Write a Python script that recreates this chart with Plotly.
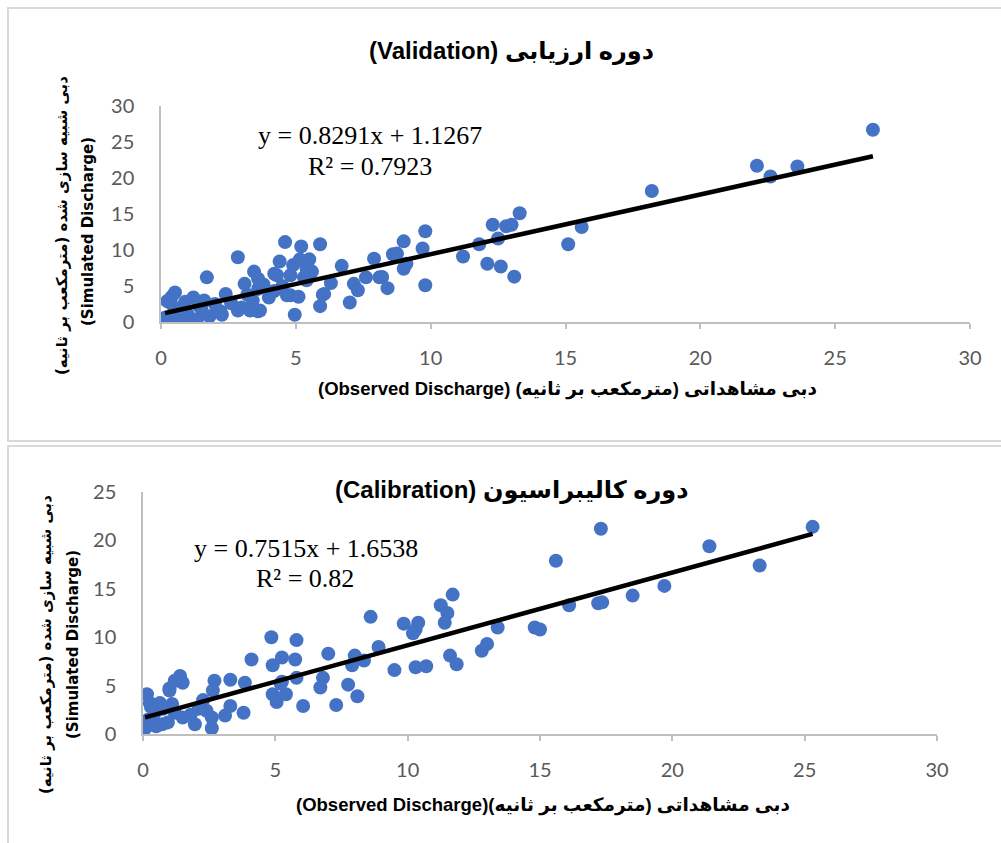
import plotly.graph_objects as go

# ---------------- data ----------------
val_obs = [26.4, 22.1, 22.6, 23.6, 18.2, 13.3, 15.6, 15.1, 12.3, 12.8, 13.0, 12.5, 11.8, 11.2, 12.1,
           12.6, 13.1, 9.8, 9.7, 9.8, 9.0, 8.75, 9.1, 9.0, 8.7, 7.9, 8.1, 8.4, 7.6, 7.15,
           7.3, 7.0, 6.7, 5.9, 6.3, 6.05, 5.9, 5.2, 4.6, 5.1, 4.96, 5.5, 5.4, 5.15, 4.9,
           4.4, 4.2, 4.8, 4.8, 5.4, 2.85, 3.45, 3.1, 3.6, 4.0, 3.4, 3.0, 3.6, 2.4, 2.2,
           1.7, 1.6, 1.2, 0.52, 0.33, 0.23, 0.15, 0.6, 0.96, 1.33, 2.07, 2.26, 2.85, 3.3, 3.67,
           4.3, 4.67, 6.0, 0.5, 0.8, 1.0, 1.5, 1.8, 0.4, 0.9, 1.4, 2.0, 2.6, 3.2, 3.8,
           4.5, 4.2, 3.6, 5.6, 5.3, 8.2, 8.6]
val_sim = [26.7, 21.7, 20.2, 21.6, 18.2, 15.1, 13.2, 10.8, 13.5, 13.3, 13.5, 11.6, 10.8, 9.1, 8.1,
           7.7, 6.3, 12.6, 10.2, 5.1, 11.2, 9.5, 8.1, 7.4, 9.2, 8.8, 6.2, 4.7, 6.2, 5.3,
           4.4, 2.7, 7.8, 10.8, 5.4, 3.9, 2.2, 10.5, 11.1, 3.5, 1.0, 8.7, 7.4, 8.7, 7.9,
           8.4, 6.7, 6.5, 3.7, 5.8, 9.0, 7.0, 5.3, 4.6, 3.4, 3.0, 2.0, 1.5, 3.9, 1.5,
           6.2, 3.0, 3.4, 4.1, 2.7, 2.9, 0.6, 0.3, 0.3, 0.3, 1.6, 1.0, 1.6, 1.6, 1.6,
           6.5, 3.7, 3.8, 1.5, 2.2, 1.0, 1.8, 0.8, 3.5, 2.8, 2.3, 2.5, 2.6, 3.8, 5.2,
           5.0, 4.3, 6.0, 7.0, 6.2, 6.25, 9.4]

cal_obs = [25.3, 17.3, 21.4, 23.3, 15.6, 19.7, 18.5, 11.7, 16.1, 17.2, 17.35, 11.25, 11.5, 11.4, 8.6,
           9.85, 10.4, 10.2, 10.3, 13.4, 14.8, 15.0, 4.85, 5.8, 8.9, 7.0, 8.0, 8.35, 7.9, 4.1,
           5.25, 5.75, 4.9, 9.5, 10.3, 10.7, 11.6, 11.85, 12.8, 13.0, 6.8, 5.8, 5.2, 6.7, 7.75,
           8.1, 7.3, 6.05, 4.9, 5.05, 5.4, 5.25, 2.7, 3.3, 3.85, 1.4, 1.2, 1.0, 1.5, 1.0,
           0.15, 0.26, 0.64, 1.1, 0.76, 0.45, 0.08, 0.34, 0.72, 0.94, 1.5, 1.96, 2.27, 2.4, 2.6,
           2.6, 2.64, 3.3, 3.1, 3.8, 0.2, 0.5, 1.2, 1.8, 2.1, 0.3]
cal_sim = [21.4, 21.2, 19.4, 17.4, 17.9, 15.3, 14.3, 14.4, 13.3, 13.5, 13.6, 13.3, 12.5, 11.5, 12.1,
           11.4, 11.5, 10.4, 10.8, 11.0, 11.0, 10.8, 10.0, 9.7, 9.0, 8.3, 8.1, 7.6, 7.1, 7.7,
           7.9, 7.7, 7.1, 6.6, 6.9, 7.0, 8.1, 7.2, 8.6, 9.3, 5.8, 5.8, 5.2, 4.8, 5.1,
           3.9, 3.0, 2.9, 4.1, 3.3, 4.1, 5.4, 5.5, 5.6, 5.3, 6.0, 5.5, 4.7, 5.3, 4.5,
           4.1, 3.2, 3.2, 3.1, 2.6, 2.2, 0.6, 1.0, 1.0, 1.2, 1.7, 1.0, 3.5, 2.4, 1.7,
           0.6, 4.5, 2.9, 1.9, 2.2, 1.5, 0.8, 2.2, 2.0, 2.6, 2.8]

val_slope, val_intercept = 0.8291, 1.1267
cal_slope, cal_intercept = 0.7515, 1.6538
val_r2, cal_r2 = "0.7923", "0.82"

x_ticks = [0, 5, 10, 15, 20, 25, 30]
val_y_ticks = [0, 5, 10, 15, 20, 25, 30]
cal_y_ticks = [0, 5, 10, 15, 20, 25]

# ---------------- layout helpers ----------------
W, H = 1001, 843
def px(x):
    return x / W
def py(y):
    return 1 - y / H

RLE, PDF = "\u202b", "\u202c"
def rtl(s):
    return RLE + s + PDF

BLUE = "#4472C4"
GRAY_LINE = "#bfbfbf"
TICK_FONT = dict(family="Lato, Liberation Sans, sans-serif", size=20, color="#595959")
TITLE_FAMILY = "Liberation Sans, DejaVu Sans, sans-serif"
EQ_FONT = dict(family="Liberation Serif, Times New Roman, serif", size=26, color="black")

fig = go.Figure()

# validation (top)
fig.add_trace(go.Scatter(x=val_obs, y=val_sim, mode="markers",
                         marker=dict(color=BLUE, size=14, line=dict(width=0)),
                         xaxis="x", yaxis="y", showlegend=False))
vx = [min(val_obs), max(val_obs)]
fig.add_trace(go.Scatter(x=vx, y=[val_slope * v + val_intercept for v in vx], mode="lines",
                         line=dict(color="black", width=4.5), xaxis="x", yaxis="y", showlegend=False))

# calibration (bottom)
fig.add_trace(go.Scatter(x=cal_obs, y=cal_sim, mode="markers",
                         marker=dict(color=BLUE, size=14, line=dict(width=0)),
                         xaxis="x2", yaxis="y2", showlegend=False))
cx = [min(cal_obs), max(cal_obs)]
fig.add_trace(go.Scatter(x=cx, y=[cal_slope * v + cal_intercept for v in cx], mode="lines",
                         line=dict(color="black", width=4.5), xaxis="x2", yaxis="y2", showlegend=False))

common_x = dict(showgrid=False, zeroline=False, showline=True, linecolor=GRAY_LINE, linewidth=1.5,
                ticks="outside", ticklen=5, tickcolor=GRAY_LINE, tickwidth=1.5, automargin=False,
                tickfont=TICK_FONT, tickvals=x_ticks, range=[0, 30], ticklabelstandoff=12)
common_y = dict(showgrid=False, zeroline=False, showline=True, linecolor=GRAY_LINE, linewidth=1.5,
                ticks="", tickfont=TICK_FONT, ticklabelstandoff=21, automargin=False)

fig.update_layout(
    width=W, height=H, margin=dict(l=0, r=0, t=0, b=0, pad=0, autoexpand=False),
    paper_bgcolor="white", plot_bgcolor="white",
    xaxis=dict(domain=[px(161), px(970)], anchor="y", **common_x),
    yaxis=dict(domain=[py(322), py(106)], anchor="x", range=[0, 30], tickvals=val_y_ticks, **common_y),
    xaxis2=dict(domain=[px(143), px(937)], anchor="y2", **common_x),
    yaxis2=dict(domain=[py(734), py(492)], anchor="x2", range=[0, 25], tickvals=cal_y_ticks, **common_y),
)

# panel borders
border = dict(color="#d9d9d9", width=2)
fig.add_shape(type="rect", xref="paper", yref="paper", x0=px(8), x1=px(1010), y0=py(441), y1=py(8), line=border)
fig.add_shape(type="rect", xref="paper", yref="paper", x0=px(8), x1=px(1010), y0=py(860), y1=py(446), line=border)

def ann(text, x, y, font, angle=0):
    fig.add_annotation(text=text, x=px(x), y=py(y), xref="paper", yref="paper",
                       showarrow=False, xanchor="center", yanchor="middle", font=font, textangle=angle)

title_font = dict(family=TITLE_FAMILY, size=24, color="black", weight="bold")
xt_font = dict(family=TITLE_FAMILY, size=18.5, color="black", weight="bold")
yt_font_fa = dict(family="DejaVu Sans, sans-serif", size=15, color="black", weight="bold")
yt_font_en = dict(family="DejaVu Sans, sans-serif", size=15, color="black", weight="bold")

# titles
ann(rtl("دوره ارزیابی (Validation)"), 511, 51, title_font)
ann(rtl("دوره کالیبراسیون (Calibration)"), 512, 490, title_font)

# x-axis titles
ann(rtl("دبی مشاهداتی (مترمکعب بر ثانیه) (Observed Discharge)"), 567, 389, xt_font)
ann(rtl("دبی مشاهداتی (مترمکعب بر ثانیه)(Observed Discharge)"), 543, 805, xt_font)

# y-axis titles
ann(rtl("دبی شبیه سازی شده (مترمکعب بر ثانیه)"), 62, 226, yt_font_fa, -90)
ann("(Simulated Discharge)", 88, 232, yt_font_en, -90)
ann(rtl("دبی شبیه سازی شده (مترمکعب بر ثانیه)"), 46, 645, yt_font_fa, -90)
ann("(Simulated Discharge)", 73, 645, yt_font_en, -90)

# trendline equations
ann(f"y = {val_slope}x + {val_intercept}", 370, 135, EQ_FONT)
ann(f"R² = {val_r2}", 370, 166, EQ_FONT)
ann(f"y = {cal_slope}x + {cal_intercept}", 306, 548, EQ_FONT)
ann(f"R² = {cal_r2}", 305, 578, EQ_FONT)

fig.write_html("out.html", config={"displayModeBar": False},
               post_script="document.body.style.margin='0';document.body.style.overflow='hidden';")
